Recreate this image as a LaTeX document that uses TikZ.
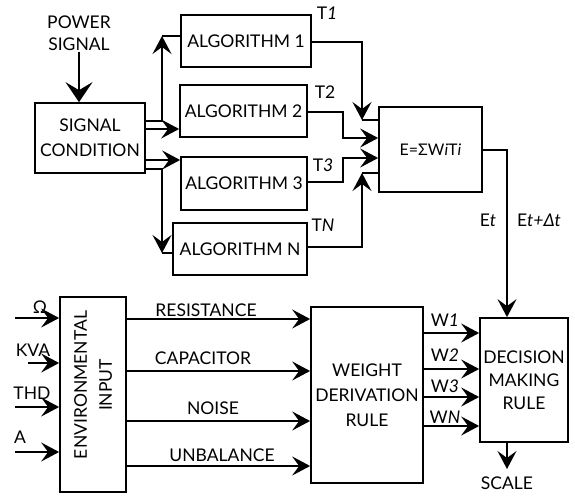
\documentclass[tikz,border=0pt]{standalone}
\usepackage{fontspec}
\setmainfont{Lato}
\usetikzlibrary{arrows.meta,calc}
\begin{document}
\begin{tikzpicture}[x=1pt,y=-1pt,
  every node/.style={font=\fontsize{17.5}{25}\selectfont},
  blk/.style={draw,line width=1.7pt,inner sep=0pt,align=center},
  lbl/.style={inner sep=1pt,align=center},
  arr/.style={-{Stealth[length=18pt,width=19pt,inset=7pt]}},
  bigarr/.style={-{Stealth[length=20pt,width=27pt,inset=8pt]}},
  ln/.style={line width=1.7pt,line join=miter}]
\useasboundingbox (0,0) rectangle (575,495);
% boxes
\node[blk,minimum width=110pt,minimum height=70pt] (sc) at (90,138) {SIGNAL\\CONDITION};
\node[blk,minimum width=130pt,minimum height=52pt] (a1) at (246,41) {ALGORITHM 1};
\node[blk,minimum width=127pt,minimum height=52pt] (a2) at (243.5,111) {ALGORITHM 2};
\node[blk,minimum width=126pt,minimum height=53pt] (a3) at (244,183.5) {ALGORITHM 3};
\node[blk,minimum width=134pt,minimum height=52pt] (aN) at (240,249) {ALGORITHM N};
\node[blk,minimum width=103pt,minimum height=85pt,font=\fontsize{16}{20}\selectfont] (E) at (430.5,149.5) {E=ΣW\textit{i}T\textit{i}};
\node[blk,minimum width=66pt,minimum height=195pt] (ei) at (93,394.5) {};
\node[lbl,rotate=90] (eit) at (93,385) {ENVIRONMENTAL\\INPUT};
\node[blk,minimum width=112pt,minimum height=176pt] (wdr) at (367,395) {WEIGHT\\DERIVATION\\RULE};
\node[blk,minimum width=88pt,minimum height=124pt,font=\fontsize{17.5}{23}\selectfont] (dm) at (524,380) {DECISION\\MAKING\\RULE};
% labels
\node[lbl,font=\fontsize{17.5}{22}\selectfont] (pw) at (79,33) {POWER\\SIGNAL};
\node[lbl] (t1) at (327,13) {T\textit{1}};
\node[lbl] (t2) at (325,92) {T2};
\node[lbl] (t3) at (323,165) {T\textit{3}};
\node[lbl] (tn) at (323,225) {T\textit{N}};
\node[lbl] (et) at (488,220) {E\textit{t}};
\node[lbl] (etd) at (539,220) {E\textit{t+Δt}};
\node[lbl] (lom) at (40,307) {Ω};
\node[lbl] (lkva) at (33,350) {KVA};
\node[lbl] (lthd) at (32,393) {THD};
\node[lbl] (la) at (20,437) {A};
\node[lbl] (lres) at (206,310) {RESISTANCE};
\node[lbl] (lcap) at (203,358) {CAPACITOR};
\node[lbl] (lnoi) at (213,408) {NOISE};
\node[lbl] (lunb) at (222,455) {UNBALANCE};
\node[lbl] (w1) at (445,320) {W\textit{1}};
\node[lbl] (w2) at (445,355) {W\textit{2}};
\node[lbl] (w3) at (445,386) {W\textit{3}};
\node[lbl] (wn) at (445,417) {W\textit{N}};
\node[lbl] (scale) at (507,483) {SCALE};
% junction coordinates
\coordinate (j1) at (162,36);
\coordinate (jN) at (162,253);
\coordinate (k1) at (362,120);
\coordinate (kN) at (362,173);
\coordinate (iom) at (15,318);
\coordinate (ikva) at (28,363);
\coordinate (ithd) at (15,407);
\coordinate (ia) at (15,452);
\coordinate (sout) at (507,469);
\begin{scope}[ln]
\draw[bigarr] (pw.south) -- (pw.south |- sc.north);
\draw[arr] (sc.east |- 0,121) -| (j1);
\draw (j1) -- (j1 -| a1.west);
\draw[arr] (sc.east |- 0,129) -- (a2.west |- 0,129);
\draw[arr] (sc.east |- 0,160) -- (a3.west |- 0,160);
\draw[arr] (sc.east |- 0,169) -| (jN);
\draw (jN) -- (jN -| aN.west);
\draw[arr] (a1.east |- 0,42) -| (k1);
\draw (k1) -- (k1 -| E.west);
\draw[arr] (a2.east |- 0,112) -- (343,112) -- (343,138) -- (E.west |- 0,138);
\draw[arr] (a3.east |- 0,182) -- (343,182) -- (343,158) -- (E.west |- 0,158);
\draw[arr] (aN.east |- 0,247) -| (kN);
\draw (kN) -- (kN -| E.west);
\draw[arr] (E.east |- 0,150) -| (507,0 |- dm.north);
\draw[arr] (iom) -- (ei.west |- iom);
\draw[arr] (ikva) -- (ei.west |- ikva);
\draw[arr] (ithd) -- (ei.west |- ithd);
\draw[arr] (ia) -- (ei.west |- ia);
\draw[arr] (ei.east |- 0,319) -- (wdr.west |- 0,319);
\draw[arr] (ei.east |- 0,371) -- (wdr.west |- 0,371);
\draw[arr] (ei.east |- 0,421) -- (wdr.west |- 0,421);
\draw[arr] (ei.east |- 0,466) -- (wdr.west |- 0,466);
\draw[arr] (wdr.east |- 0,333) -- (dm.west |- 0,333);
\draw[arr] (wdr.east |- 0,369) -- (dm.west |- 0,369);
\draw[arr] (wdr.east |- 0,397) -- (dm.west |- 0,397);
\draw[arr] (wdr.east |- 0,426) -- (dm.west |- 0,426);
\draw[arr] (507,0 |- dm.south) -- (sout);
\end{scope}
\end{tikzpicture}
\end{document}
